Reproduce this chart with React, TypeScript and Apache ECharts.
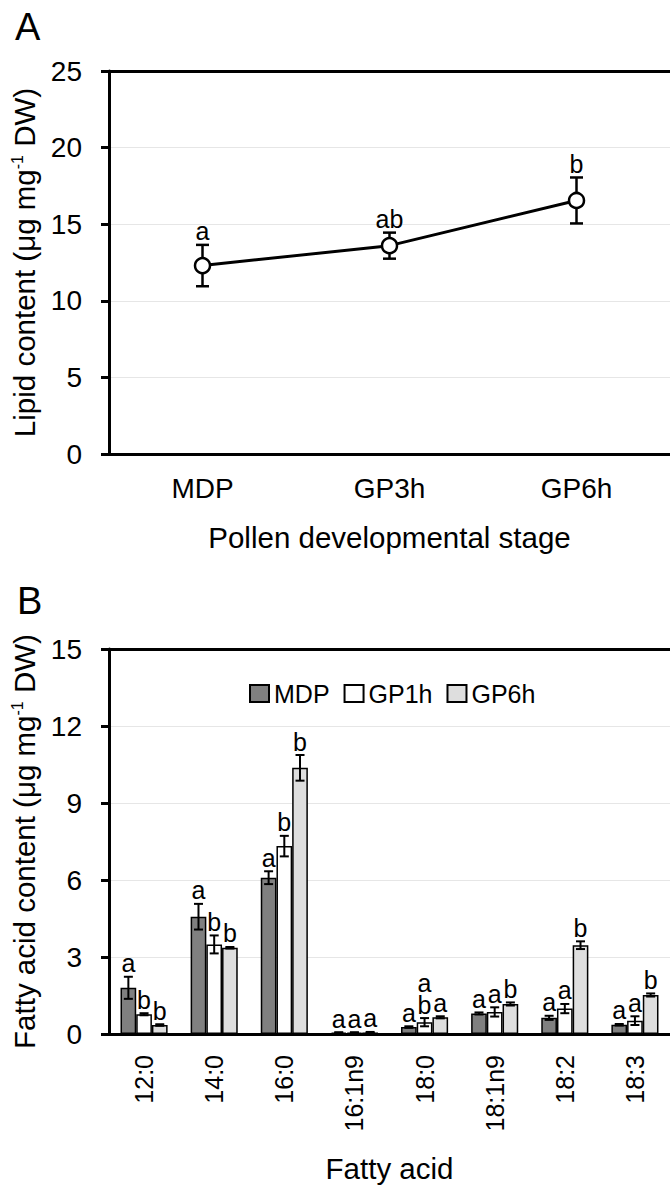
import React, { useEffect, useRef } from "react";
import * as echarts from "echarts";

const stages = ["MDP", "GP3h", "GP6h"];
const lipidMean = [12.3, 13.6, 16.55];
const lipidErr = [1.35, 0.85, 1.5];
const lipidLetters = ["a", "ab", "b"];

const acids = ["12:0", "14:0", "16:0", "16:1n9", "18:0", "18:1n9", "18:2", "18:3"];
const mdpMean = [1.8, 4.57, 6.09, 0.05, 0.27, 0.8, 0.63, 0.36];
const mdpErr = [0.43, 0.5, 0.25, 0.02, 0.03, 0.04, 0.08, 0.03];
const gp1hMean = [0.77, 3.49, 7.32, 0.05, 0.46, 0.86, 0.99, 0.52];
const gp1hErr = [0.04, 0.35, 0.4, 0.02, 0.16, 0.18, 0.18, 0.17];
const gp6hMean = [0.35, 3.36, 10.37, 0.06, 0.65, 1.17, 3.46, 1.52];
const gp6hErr = [0.03, 0.03, 0.5, 0.02, 0.04, 0.06, 0.15, 0.06];
const mdpLetters = ["a", "a", "a", "a", "a", "a", "a", "a"];
const gp1hLetters = ["b", "b", "b", "a", "a\nb", "a", "a", "a"];
const gp6hLetters = ["b", "b", "b", "a", "a", "b", "b", "b"];

const seriesNames = ["MDP", "GP1h", "GP6h"];
const seriesColors = ["#808080", "#ffffff", "#dedede"];

const FONT = "'Liberation Sans', Arial, Helvetica, sans-serif";
const BAR_W = 15.7;

export default function App() {
  const ref = useRef<HTMLDivElement>(null);

  useEffect(() => {
    if (!ref.current) return;
    const chart = echarts.init(ref.current, null, { renderer: "svg" });

    const errRenderer = (
      letters: string[],
      offset: number,
      capW: number,
      lw: number
    ) => (params: any, api: any) => {
      const cat = api.value(0);
      const mean = api.value(1);
      const err = api.value(2);
      const top = api.coord([cat, mean + err]);
      const bot = api.coord([cat, Math.max(0, mean - err)]);
      const x = top[0] + offset;
      const lines = letters[params.dataIndex].split("\n").reverse();
      const texts = lines.map((t: string, j: number) => ({
        type: "text",
        x: x,
        y: top[1] - 1 - j * 22,
        style: {
          text: t,
          fontSize: 25,
          fontFamily: FONT,
          fill: "#000",
          align: "center",
          verticalAlign: "bottom",
          textAlign: "center",
          textVerticalAlign: "bottom",
        },
      }));
      return {
        type: "group",
        children: [
          {
            type: "line",
            shape: { x1: x, y1: top[1], x2: x, y2: bot[1] },
            style: { stroke: "#000", lineWidth: lw },
          },
          {
            type: "line",
            shape: { x1: x - capW / 2, y1: top[1], x2: x + capW / 2, y2: top[1] },
            style: { stroke: "#000", lineWidth: lw },
          },
          {
            type: "line",
            shape: { x1: x - capW / 2, y1: bot[1], x2: x + capW / 2, y2: bot[1] },
            style: { stroke: "#000", lineWidth: lw },
          },
          ...texts,
        ],
      };
    };

    const axisLabelStyle = { fontSize: 28, color: "#000", fontFamily: FONT };
    const nameStyle = () => ({
      fontSize: 29.5,
      color: "#000",
      fontFamily: FONT,
      rich: {
        n: { fontSize: 29.5, color: "#000", fontFamily: FONT },
        s: { fontSize: 16, color: "#000", fontFamily: FONT, verticalAlign: "top" },
      },
    });

    const barMeans = [mdpMean, gp1hMean, gp6hMean];
    const barErrs = [mdpErr, gp1hErr, gp6hErr];
    const barLetters = [mdpLetters, gp1hLetters, gp6hLetters];

    const option: any = {
      animation: false,
      backgroundColor: "#fff",
      textStyle: { fontFamily: FONT },
      grid: [
        { left: 109, top: 71, width: 563, height: 383 },
        { left: 109, top: 649, width: 563, height: 385 },
      ],
      legend: {
        data: seriesNames,
        left: 244,
        top: 676,
        icon: "rect",
        itemWidth: 19,
        itemHeight: 17,
        itemGap: 14,
        textStyle: { fontSize: 25, color: "#000", fontFamily: FONT },
      },
      graphic: [
        {
          type: "text",
          left: 15,
          top: 8,
          style: { text: "A", fontSize: 38, fill: "#000", fontFamily: FONT },
        },
        {
          type: "text",
          left: 17,
          top: 582,
          style: { text: "B", fontSize: 38, fill: "#000", fontFamily: FONT },
        },
      ],
      xAxis: [
        {
          type: "category",
          gridIndex: 0,
          data: stages,
          axisLine: { lineStyle: { color: "#000", width: 3 } },
          axisTick: { length: 9, lineStyle: { color: "#000", width: 3 } },
          axisLabel: { ...axisLabelStyle, margin: 20 },
          name: "Pollen developmental stage",
          nameLocation: "middle",
          nameGap: 68,
          nameTextStyle: { fontSize: 29.5, color: "#000", fontFamily: FONT },
        },
        {
          type: "category",
          gridIndex: 0,
          position: "top",
          data: stages,
          axisLine: { lineStyle: { color: "#000", width: 3 } },
          axisTick: { show: false },
          axisLabel: { show: false },
        },
        {
          type: "category",
          gridIndex: 1,
          data: acids,
          axisLine: { lineStyle: { color: "#000", width: 3 } },
          axisTick: { length: 9, lineStyle: { color: "#000", width: 3 } },
          axisLabel: { fontSize: 25, color: "#000", fontFamily: FONT, rotate: 90, margin: 21 },
          name: "Fatty acid",
          nameLocation: "middle",
          nameGap: 119,
          nameTextStyle: { fontSize: 29.5, color: "#000", fontFamily: FONT },
        },
        {
          type: "category",
          gridIndex: 1,
          position: "top",
          data: acids,
          axisLine: { lineStyle: { color: "#000", width: 3 } },
          axisTick: { show: false },
          axisLabel: { show: false },
        },
      ],
      yAxis: [
        {
          type: "value",
          gridIndex: 0,
          min: 0,
          max: 25,
          interval: 5,
          axisLine: { show: true, lineStyle: { color: "#000", width: 3 } },
          axisTick: { show: true, length: 8, lineStyle: { color: "#000", width: 3 } },
          axisLabel: { ...axisLabelStyle, margin: 27 },
          splitLine: { lineStyle: { color: "#e6e6e6", width: 1 } },
          name: "{n|Lipid content (μg mg}{s|-1}{n| DW)}",
          nameLocation: "middle",
          nameGap: 67,
          nameTextStyle: nameStyle(),
        },
        {
          type: "value",
          gridIndex: 1,
          min: 0,
          max: 15,
          interval: 3,
          axisLine: { show: true, lineStyle: { color: "#000", width: 3 } },
          axisTick: { show: true, length: 8, lineStyle: { color: "#000", width: 3 } },
          axisLabel: { ...axisLabelStyle, margin: 27 },
          splitLine: { lineStyle: { color: "#e6e6e6", width: 1 } },
          name: "{n|Fatty acid content (μg mg}{s|-1}{n| DW)}",
          nameLocation: "middle",
          nameGap: 67,
          nameTextStyle: nameStyle(),
        },
      ],
      series: [
        {
          type: "custom",
          name: "lipidErr",
          xAxisIndex: 0,
          yAxisIndex: 0,
          z: 1,
          renderItem: errRenderer(lipidLetters, 0, 13, 2.5),
          data: lipidMean.map((m, i) => [i, m, lipidErr[i]]),
          silent: true,
        },
        {
          type: "line",
          name: "Lipid",
          xAxisIndex: 0,
          yAxisIndex: 0,
          z: 5,
          data: lipidMean,
          symbol: "circle",
          symbolSize: 15,
          lineStyle: { color: "#000", width: 3 },
          itemStyle: { color: "#fff", borderColor: "#000", borderWidth: 2.5 },
        },
        ...seriesNames.map((nm, k) => ({
          type: "bar",
          name: nm,
          xAxisIndex: 2,
          yAxisIndex: 1,
          barWidth: BAR_W,
          barGap: "0%",
          data: barMeans[k],
          itemStyle: { color: seriesColors[k], borderColor: "#000", borderWidth: 1.5 },
        })),
        ...seriesNames.map((nm, k) => ({
          type: "custom",
          name: nm + "Err",
          xAxisIndex: 2,
          yAxisIndex: 1,
          z: 5,
          renderItem: errRenderer(barLetters[k], (k - 1) * BAR_W, 9, 2),
          data: barMeans[k].map((m, i) => [i, m, barErrs[k][i]]),
          silent: true,
        })),
      ],
    };

    chart.setOption(option);
    return () => chart.dispose();
  }, []);

  return (
    <div
      ref={ref}
      style={{ position: "fixed", left: 0, top: 0, width: 670, height: 1186, background: "#fff" }}
    />
  );
}
